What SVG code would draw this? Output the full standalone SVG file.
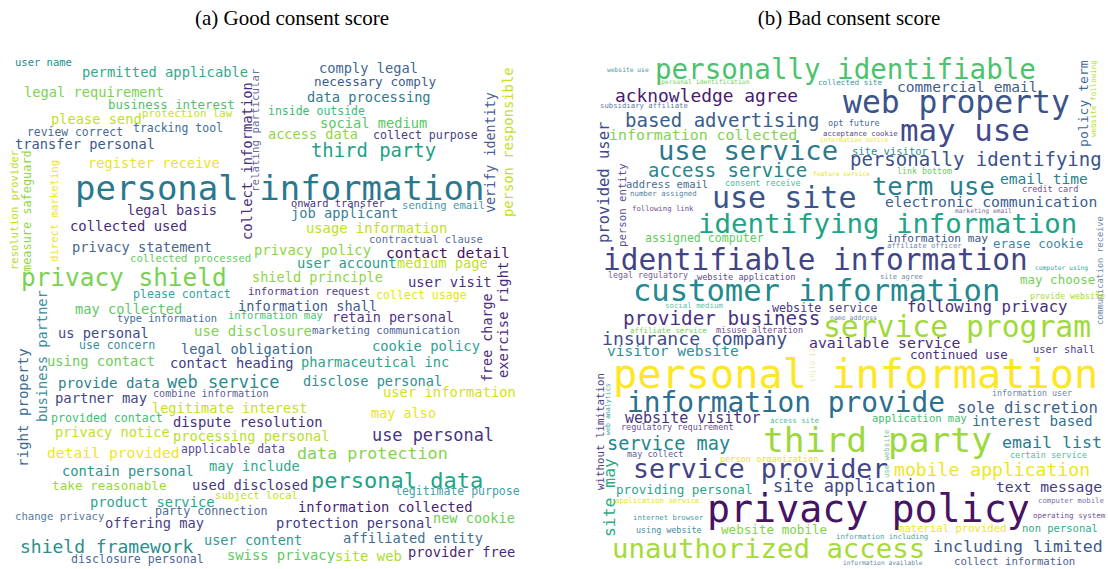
<svg xmlns="http://www.w3.org/2000/svg" width="1108" height="569" viewBox="0 0 1108 569">
<style>
text{font-family:"DejaVu Sans Mono","Liberation Mono",monospace;}
.t{font-family:"Liberation Serif","DejaVu Serif",serif;font-size:21px;fill:#000;text-anchor:middle;}
</style>
<rect width="1108" height="569" fill="#fff"/>
<text class="t" x="292" y="25">(a) Good consent score</text>
<text class="t" x="849" y="25">(b) Bad consent score</text>
<g id="cloud-good">
<text x="15" y="66" font-size="10.5" fill="#2a8a8a">user name</text>
<text x="82" y="77" font-size="13.8" fill="#35a98a">permitted applicable</text>
<text x="24" y="97" font-size="13.7" fill="#7dd250">legal requirement</text>
<text x="108" y="109" font-size="12.4" fill="#4ec36b">business interest</text>
<text x="142" y="117" font-size="10.7" fill="#c8e020">protection law</text>
<text x="51" y="124" font-size="13.7" fill="#c2df23">please send</text>
<text x="133" y="132" font-size="11.5" fill="#3e6e93">tracking tool</text>
<text x="27" y="136" font-size="11.4" fill="#4a6a94">review correct</text>
<text x="15" y="149" font-size="13.7" fill="#3b5a8c">transfer personal</text>
<text x="88" y="168" font-size="13.7" fill="#ebe51b">register receive</text>
<text x="75" y="200" font-size="34" fill="#2a788e">personal information</text>
<text x="127" y="215" font-size="13.6" fill="#4a2f7d">legal basis</text>
<text x="70" y="231" font-size="13.9" fill="#472a7a">collected used</text>
<text x="72" y="252" font-size="13.7" fill="#46668f">privacy statement</text>
<text x="130" y="262" font-size="10.6" fill="#65cb5e">collected processed</text>
<text x="21" y="286" font-size="24.4" fill="#7ad151">privacy shield</text>
<text x="133" y="298" font-size="11.6" fill="#3aa1a0">please contact</text>
<text x="75" y="314" font-size="13.7" fill="#5ec962">may collected</text>
<text x="117" y="322" font-size="10.4" fill="#3f6e95">type information</text>
<text x="58" y="338" font-size="13.7" fill="#424b87">us personal</text>
<text x="79" y="349" font-size="11.5" fill="#3a8fa0">use concern</text>
<text x="47" y="366" font-size="13.8" fill="#6ccd5a">using contact</text>
<text x="58" y="388" font-size="14.1" fill="#2e7f8d">provide data</text>
<text x="167" y="388" font-size="17" fill="#2a8a8d">web service</text>
<text x="55" y="403" font-size="13.9" fill="#424887">partner may</text>
<text x="153" y="397" font-size="10.1" fill="#5a619a">combine information</text>
<text x="152" y="413" font-size="13.6" fill="#c6e021">legitimate interest</text>
<text x="51" y="422" font-size="11.6" fill="#42be71">provided contact</text>
<text x="173" y="427" font-size="13.8" fill="#46307e">dispute resolution</text>
<text x="55" y="437" font-size="13.6" fill="#c2df23">privacy notice</text>
<text x="173" y="441" font-size="13.7" fill="#b8de29">processing personal</text>
<text x="181" y="453" font-size="11.5" fill="#5b4a8f">applicable data</text>
<text x="47" y="458" font-size="14.7" fill="#f1e51d">detail provided</text>
<text x="209" y="471" font-size="13.7" fill="#31a88b">may include</text>
<text x="62" y="476" font-size="13.7" fill="#2c958a">contain personal</text>
<text x="52" y="490" font-size="12.7" fill="#98d83e">take reasonable</text>
<text x="192" y="490" font-size="13.8" fill="#453781">used disclosed</text>
<text x="215" y="499" font-size="10.6" fill="#bfe026">subject local</text>
<text x="90" y="507" font-size="13.8" fill="#2fa58e">product service</text>
<text x="155" y="515" font-size="11.7" fill="#4e6a97">party connection</text>
<text x="15" y="520" font-size="10.6" fill="#55799f">change privacy</text>
<text x="105" y="528" font-size="13.7" fill="#4a3e86">offering may</text>
<text x="20" y="553" font-size="18" fill="#2b8e8d">shield framework</text>
<text x="204" y="545" font-size="13.6" fill="#2d9a92">user content</text>
<text x="71" y="563" font-size="11.6" fill="#4d6796">disclosure personal</text>
<text x="227" y="560" font-size="13.8" fill="#5ec962">swiss privacy</text>
<text x="371" y="418" font-size="13.5" fill="#e8e419">may also</text>
<text x="372" y="441" font-size="16.9" fill="#453480">use personal</text>
<text x="297" y="459" font-size="16.7" fill="#84d44b">data protection</text>
<text x="311" y="488" font-size="22" fill="#20a486">personal data</text>
<text x="395" y="495" font-size="11.5" fill="#43a0a5">legitimate purpose</text>
<text x="298" y="512" font-size="13.8" fill="#481f70">information collected</text>
<text x="433" y="523" font-size="13.6" fill="#6ece58">new cookie</text>
<text x="276" y="528" font-size="13.7" fill="#443b84">protection personal</text>
<text x="343" y="543" font-size="13.7" fill="#3e6f94">affiliated entity</text>
<text x="335" y="561" font-size="13.9" fill="#addc30">site web</text>
<text x="408" y="557" font-size="13.7" fill="#482878">provider free</text>
<text x="319" y="73" font-size="13.7" fill="#42688f">comply legal</text>
<text x="314" y="86" font-size="12.7" fill="#3b5d8b">necessary comply</text>
<text x="307" y="102" font-size="13.7" fill="#2f7b8e">data processing</text>
<text x="268" y="115" font-size="11.5" fill="#3dbc74">inside outside</text>
<text x="320" y="128" font-size="13.7" fill="#58c765">social medium</text>
<text x="268" y="139" font-size="13.6" fill="#8ed645">access data</text>
<text x="373" y="139" font-size="11.6" fill="#433e85">collect purpose</text>
<text x="311" y="157" font-size="18.9" fill="#1fa187">third party</text>
<text x="291" y="207" font-size="10.4" fill="#46327e">onward transfer</text>
<text x="402" y="209" font-size="10.6" fill="#4a96a4">sending email</text>
<text x="291" y="218" font-size="13.7" fill="#3a7d96">job applicant</text>
<text x="306" y="233" font-size="13.8" fill="#c0df25">usage information</text>
<text x="369" y="243" font-size="10.5" fill="#5b6b9b">contractual clause</text>
<text x="254" y="255" font-size="13.9" fill="#8bd646">privacy policy</text>
<text x="386" y="258" font-size="14.7" fill="#471365">contact detail</text>
<text x="297" y="268" font-size="13.8" fill="#2a9f88">user account</text>
<text x="397" y="268" font-size="13.7" fill="#c0df25">medium page</text>
<text x="252" y="282" font-size="13.6" fill="#8ed645">shield principle</text>
<text x="408" y="287" font-size="13.9" fill="#482f7e">user visit</text>
<text x="248" y="295" font-size="10.7" fill="#553c86">information request</text>
<text x="376" y="299" font-size="11.6" fill="#e5e419">collect usage</text>
<text x="238" y="311" font-size="13.6" fill="#3f5a8d">information shall</text>
<text x="228" y="319" font-size="10.5" fill="#48c16e">information may</text>
<text x="332" y="322" font-size="13.5" fill="#50378a">retain personal</text>
<text x="194" y="336" font-size="14" fill="#7fd34e">use disclosure</text>
<text x="312" y="334" font-size="10.7" fill="#4f6597">marketing communication</text>
<text x="181" y="354" font-size="13.7" fill="#3b6791">legal obligation</text>
<text x="372" y="351" font-size="13.8" fill="#2fa094">cookie policy</text>
<text x="170" y="368" font-size="13.7" fill="#433d84">contact heading</text>
<text x="301" y="367" font-size="13.7" fill="#2fa58c">pharmaceutical inc</text>
<text x="303" y="386" font-size="13.6" fill="#2e9091">disclose personal</text>
<text x="383" y="397" font-size="13.8" fill="#d2e21b">user information</text>
<text transform="translate(252,240) rotate(-90)" font-size="13.8" fill="#472f7d">collect information</text>
<text transform="translate(259,192) rotate(-90)" font-size="10.8" fill="#6e6a9c">relating particular</text>
<text transform="translate(495,213) rotate(-90)" font-size="13.4" fill="#4d5c94">verify identity</text>
<text transform="translate(513,217) rotate(-90)" font-size="13.8" fill="#c4df26">person responsible</text>
<text transform="translate(492,382) rotate(-90)" font-size="13.4" fill="#4d2d80">free charge</text>
<text transform="translate(508,378) rotate(-90)" font-size="13.8" fill="#4c2a7e">exercise right</text>
<text transform="translate(18,270) rotate(-90)" font-size="10.5" fill="#b5de2b">resolution provider</text>
<text transform="translate(31,272) rotate(-90)" font-size="11.9" fill="#8fd744">measure safeguard</text>
<text transform="translate(58,262) rotate(-90)" font-size="10.6" fill="#f0e51c">direct marketing</text>
<text transform="translate(47,422) rotate(-90)" font-size="13.7" fill="#3e8d9b">business partner</text>
<text transform="translate(28,467) rotate(-90)" font-size="14.1" fill="#3d6a93">right property</text>
</g>
<g id="cloud-bad">
<text x="607" y="72" font-size="6.3" fill="#4a9ca4">website use</text>
<text x="655" y="79" font-size="27.5" fill="#4cc26c">personally identifiable</text>
<text x="661" y="84" font-size="6.4" fill="#74d055">personal identification</text>
<text x="818" y="85" font-size="7.6" fill="#3a9d9e">collected site</text>
<text x="615" y="102" font-size="17.9" fill="#471c6d">acknowledge agree</text>
<text x="600" y="108" font-size="7.3" fill="#5e7aa0">subsidiary affiliate</text>
<text x="843" y="113" font-size="31.4" fill="#3b548c">web property</text>
<text x="897" y="92" font-size="14.6" fill="#3c5d8d">commercial email</text>
<text x="625" y="127" font-size="19" fill="#3a5e8c">based advertising</text>
<text x="828" y="126" font-size="8.6" fill="#4b6a9b">opt future</text>
<text x="609" y="140" font-size="14.9" fill="#7fd34e">information collected</text>
<text x="823" y="136" font-size="7.3" fill="#5c3f8a">acceptance cookie</text>
<text x="820" y="142" font-size="6.3" fill="#f1e51d">information notice</text>
<text x="900" y="141" font-size="30.8" fill="#3f4a8a">may use</text>
<text x="658" y="160" font-size="27.2" fill="#29798e">use service</text>
<text x="852" y="155" font-size="10.5" fill="#2b8c8d">site visitor</text>
<text x="850" y="166" font-size="19" fill="#3b528b">personally identifying</text>
<text x="648" y="177" font-size="18.9" fill="#24878e">access service</text>
<text x="813" y="176" font-size="6.3" fill="#e6e419">feature service</text>
<text x="897" y="174" font-size="8.3" fill="#6ccd5a">link bottom</text>
<text x="1000" y="184" font-size="14.6" fill="#2c818e">email time</text>
<text x="872" y="195" font-size="25.5" fill="#277f8e">term use</text>
<text x="1022" y="192" font-size="8.5" fill="#744d8f">credit card</text>
<text x="626" y="188" font-size="10.5" fill="#476a96">address email</text>
<text x="725" y="186" font-size="8.4" fill="#49b8a0">consent receive</text>
<text x="630" y="196" font-size="7.4" fill="#5a82a5">number assigned</text>
<text x="712" y="208" font-size="30" fill="#39568c">use site</text>
<text x="885" y="207" font-size="14.7" fill="#3b6090">electronic communication</text>
<text x="955" y="213" font-size="6.3" fill="#7d6aa5">marketing email</text>
<text x="632" y="211" font-size="7.3" fill="#6b4c93">following link</text>
<text x="698" y="233" font-size="27.4" fill="#20a386">identifying information</text>
<text x="645" y="242" font-size="11.6" fill="#5fca61">assigned computer</text>
<text x="603" y="270" font-size="29.4" fill="#414487">identifiable information</text>
<text x="887" y="242" font-size="11.2" fill="#3a548b">information may</text>
<text x="993" y="248" font-size="12.5" fill="#3a8c9e">erase cookie</text>
<text x="887" y="248" font-size="7.3" fill="#6c89aa">affiliate officer</text>
<text x="608" y="278" font-size="8.3" fill="#7a5a96">legal regulatory</text>
<text x="697" y="280" font-size="8.6" fill="#60488e">website application</text>
<text x="880" y="279" font-size="7.1" fill="#6f8cab">site agree</text>
<text x="1035" y="270" font-size="6.3" fill="#42a3a2">computer using</text>
<text x="633" y="301" font-size="30.5" fill="#23898e">customer information</text>
<text x="1020" y="284" font-size="12.5" fill="#75d054">may choose</text>
<text x="1030" y="299" font-size="8.3" fill="#a8db34">provide website</text>
<text x="665" y="308" font-size="7.4" fill="#5cc5a0">social medium</text>
<text x="772" y="312" font-size="11.7" fill="#4b3984">website service</text>
<text x="830" y="320" font-size="6.5" fill="#6f8cab">name address</text>
<text x="907" y="312" font-size="15.7" fill="#472f7d">following privacy</text>
<text x="623" y="325" font-size="19.3" fill="#463480">provider business</text>
<text x="823" y="337" font-size="29.7" fill="#a0da39">service program</text>
<text x="630" y="333" font-size="7.5" fill="#70cf57">affiliate service</text>
<text x="716" y="333" font-size="8.5" fill="#6c4b8d">misuse alteration</text>
<text x="602" y="345" font-size="18.1" fill="#3e4c8a">insurance company</text>
<text x="809" y="348" font-size="14.8" fill="#472c7a">available service</text>
<text x="607" y="356" font-size="14.6" fill="#30909a">visitor website</text>
<text x="910" y="359" font-size="12.5" fill="#4a2f7f">continued use</text>
<text x="1033" y="353" font-size="10.3" fill="#4d3f88">user shall</text>
<text x="613" y="388" font-size="40.3" fill="#fde725">personal information</text>
<text x="627" y="412" font-size="27.8" fill="#2c6f8e">information provide</text>
<text x="625" y="423" font-size="15" fill="#45347f">website visitor</text>
<text x="770" y="423" font-size="7.4" fill="#4cbf8e">access site</text>
<text x="621" y="430" font-size="8.5" fill="#6c4f8f">regulatory requirement</text>
<text x="763" y="452" font-size="34.6" fill="#9bd93c">third party</text>
<text x="607" y="450" font-size="18.6" fill="#24868e">service may</text>
<text x="627" y="457" font-size="8.5" fill="#5e5c98">may collect</text>
<text x="872" y="422" font-size="10.5" fill="#45be71">application may</text>
<text x="957" y="413" font-size="15.6" fill="#3d5e8d">sole discretion</text>
<text x="992" y="396" font-size="8.3" fill="#6a86a6">information user</text>
<text x="972" y="426" font-size="14.3" fill="#33728e">interest based</text>
<text x="1002" y="448" font-size="16.6" fill="#2a7c8e">email list</text>
<text x="1010" y="458" font-size="8.5" fill="#50bd98">certain service</text>
<text x="720" y="462" font-size="8.6" fill="#ebe51a">person organization</text>
<text x="633" y="478" font-size="26.5" fill="#414487">service provider</text>
<text x="894" y="476" font-size="18.1" fill="#f1e51d">mobile application</text>
<text x="773" y="492" font-size="16.9" fill="#3f4788">site application</text>
<text x="996" y="492" font-size="14.7" fill="#443d85">text message</text>
<text x="616" y="494" font-size="12.6" fill="#2fa38a">providing personal</text>
<text x="615" y="503" font-size="7.4" fill="#e2e418">application service</text>
<text x="707" y="522" font-size="38.3" fill="#471365">privacy policy</text>
<text x="633" y="520" font-size="7.3" fill="#3e9da3">internet browser</text>
<text x="636" y="533" font-size="8.4" fill="#3e8fa0">using website</text>
<text x="721" y="534" font-size="12.6" fill="#82d34d">website mobile</text>
<text x="898" y="532" font-size="10.6" fill="#f0e51c">material provided</text>
<text x="1022" y="532" font-size="10.5" fill="#31ab8a">non personal</text>
<text x="1038" y="503" font-size="7.3" fill="#7c72a8">computer mobile</text>
<text x="1033" y="518" font-size="7.5" fill="#6e5295">operating system</text>
<text x="836" y="539" font-size="7.3" fill="#4aa6a6">information including</text>
<text x="612" y="558" font-size="27.4" fill="#a5db36">unauthorized access</text>
<text x="933" y="552" font-size="16.6" fill="#3c5a8c">including limited</text>
<text x="954" y="565" font-size="10.6" fill="#4d5f96">collect information</text>
<text x="843" y="565" font-size="6.3" fill="#6a86a6">information available</text>
<text transform="translate(1088,147) rotate(-90)" font-size="13.1" fill="#3e6a94">policy term</text>
<text transform="translate(1096,137) rotate(-90)" font-size="7.5" fill="#b5de2b">website following</text>
<text transform="translate(609,243) rotate(-90)" font-size="15.5" fill="#3e4a89">provided user</text>
<text transform="translate(626,247) rotate(-90)" font-size="10.7" fill="#5c4d91">person entity</text>
<text transform="translate(1103,325) rotate(-90)" font-size="8.6" fill="#6c87a6">communication receive</text>
<text transform="translate(604,490) rotate(-90)" font-size="10.8" fill="#4e4389">without limitation</text>
<text transform="translate(610,435) rotate(-90)" font-size="6.6" fill="#3aa39f">web analytics</text>
<text transform="translate(615,537) rotate(-90)" font-size="16.4" fill="#2fab85">site may</text>
<text transform="translate(889,478) rotate(-90)" font-size="7.3" fill="#78c3a0">use website</text>
<text transform="translate(815,382) rotate(-90)" font-size="7" fill="#ece8a8">child 13</text>
</g>
</svg>
